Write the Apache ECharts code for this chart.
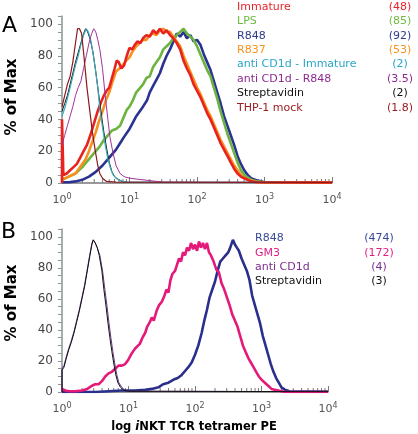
<!DOCTYPE html>
<html><head><meta charset="utf-8">
<script src="https://cdn.jsdelivr.net/npm/echarts@6/dist/echarts.min.js"></script>
<style>html,body{margin:0;padding:0;background:#fff}#c{width:418px;height:434px}</style>
</head><body><div id="c"></div>
<script>
// x values are log10 of fluorescence intensity (decades), y = % of Max
const xTickDecades = [0, 1, 2, 3, 4];
const yTickLabels = [0, 20, 40, 60, 80, 100];

// ---- Panel A ----
const A_legend = ["Immature", "LPS", "R848", "R837", "anti CD1d - Immature", "anti CD1d - R848", "Streptavidin", "THP-1 mock"];
const A_mfi = ["(48)", "(85)", "(92)", "(53)", "(2)", "(3.5)", "(2)", "(1.8)"];
const A_immature = [[0,0],[0,40],[0.02,5],[0.07,6],[0.12,8],[0.17,10],[0.22,12],[0.27,16],[0.32,20],[0.37,24],[0.42,30],[0.47,37],[0.52,44],[0.57,50],[0.62,55],[0.66,58],[0.7,60],[0.74,66],[0.78,72],[0.81,77],[0.84,76],[0.88,72],[0.92,74],[0.96,80],[1.0,85],[1.04,84],[1.08,87],[1.12,89],[1.16,88],[1.2,91],[1.25,93],[1.3,92],[1.35,96],[1.4,94],[1.45,97],[1.5,94],[1.55,96],[1.6,93],[1.65,91],[1.7,88],[1.75,84],[1.8,77],[1.85,72],[1.9,68],[1.95,62],[2.0,58],[2.05,54],[2.1,49],[2.15,44],[2.2,40],[2.25,35],[2.3,30],[2.35,25],[2.4,21],[2.45,17],[2.5,13],[2.55,9],[2.6,6],[2.65,4],[2.7,3],[2.8,1],[2.9,0.5],[3.5,0.3],[4,0.3]];
const A_lps = [[0,2],[0.1,4],[0.2,6],[0.3,10],[0.4,15],[0.5,20],[0.56,23],[0.62,27],[0.68,30],[0.74,33],[0.8,34],[0.86,36],[0.9,40],[0.96,46],[1.0,48],[1.05,52],[1.1,57],[1.16,60],[1.2,62],[1.25,66],[1.3,67],[1.35,73],[1.4,76],[1.45,79],[1.5,84],[1.55,86],[1.6,88],[1.65,91],[1.7,93],[1.75,95],[1.8,97],[1.85,94],[1.9,92],[1.95,90],[2.0,86],[2.05,81],[2.1,76],[2.15,71],[2.2,67],[2.25,60],[2.3,53],[2.35,45],[2.4,38],[2.45,31],[2.5,25],[2.55,19],[2.6,13],[2.65,8],[2.7,5],[2.8,2],[2.9,1],[3.0,0.5],[4,0.3]];
const A_r848 = [[0,0.5],[0.1,0.5],[0.2,1],[0.3,2],[0.4,4],[0.5,7],[0.6,11],[0.7,16],[0.8,21],[0.86,25],[0.92,29],[1.0,34],[1.05,38],[1.1,42],[1.15,45],[1.2,48],[1.26,52],[1.3,57],[1.35,61],[1.4,65],[1.45,69],[1.5,75],[1.55,80],[1.6,84],[1.65,89],[1.7,94],[1.75,92],[1.8,95],[1.85,91],[1.9,93],[1.95,89],[2.0,90],[2.05,87],[2.1,81],[2.15,76],[2.2,71],[2.25,64],[2.3,57],[2.35,50],[2.4,42],[2.45,36],[2.5,30],[2.55,24],[2.6,17],[2.65,12],[2.7,8],[2.75,5],[2.8,3],[2.9,1.5],[3.0,0.5],[4,0.3]];
const A_r837 = [[0,3],[0.05,3],[0.1,4],[0.15,5],[0.2,6],[0.25,9],[0.3,12],[0.35,15],[0.4,20],[0.45,26],[0.5,32],[0.55,39],[0.6,45],[0.65,52],[0.7,57],[0.75,64],[0.8,70],[0.85,72],[0.9,74],[0.95,77],[1.0,79],[1.05,83],[1.1,86],[1.15,88],[1.2,90],[1.25,90],[1.3,93],[1.35,94],[1.4,93],[1.45,96],[1.5,97],[1.55,95],[1.6,95],[1.65,92],[1.7,89],[1.75,86],[1.8,80],[1.85,75],[1.9,70],[1.95,65],[2.0,60],[2.05,56],[2.1,51],[2.15,46],[2.2,42],[2.25,37],[2.3,32],[2.35,27],[2.4,23],[2.45,19],[2.5,15],[2.55,11],[2.6,8],[2.65,5],[2.7,3],[2.8,1.5],[2.9,0.5],[4,0.3]];
const A_cd1dImm = [[0,42],[0.04,47],[0.08,53],[0.12,60],[0.16,67],[0.2,74],[0.24,80],[0.28,87],[0.32,93],[0.36,97],[0.39,95],[0.42,91],[0.45,84],[0.49,73],[0.53,60],[0.56,47],[0.6,35],[0.64,24],[0.68,15],[0.72,9],[0.76,5],[0.8,3],[0.86,1.5],[0.95,0.5],[4,0.3]];
const A_cd1dR848 = [[0,24],[0.04,30],[0.08,36],[0.12,42],[0.16,48],[0.2,55],[0.24,60],[0.28,64],[0.32,72],[0.36,80],[0.4,88],[0.44,94],[0.47,97],[0.5,95],[0.53,90],[0.56,84],[0.6,72],[0.64,55],[0.68,40],[0.71,29],[0.75,20],[0.8,11],[0.86,6],[0.92,4],[1.0,3],[1.1,2.5],[1.2,2],[1.3,1.5],[1.4,1],[1.5,0.5],[4,0.3]];
const A_strep = [[0,45],[0.04,50],[0.08,55],[0.12,62],[0.16,69],[0.2,76],[0.24,82],[0.28,88],[0.32,94],[0.35,97],[0.38,95],[0.42,90],[0.46,82],[0.5,70],[0.54,57],[0.58,44],[0.62,32],[0.66,22],[0.7,13],[0.74,7],[0.78,4],[0.84,2],[0.92,0.5],[4,0.3]];
const A_thp1 = [[0,48],[0.04,55],[0.08,62],[0.12,67],[0.16,76],[0.2,88],[0.23,97],[0.26,97],[0.29,94],[0.32,82],[0.34,73],[0.37,60],[0.41,46],[0.45,32],[0.49,21],[0.53,11],[0.56,6],[0.6,3],[0.66,1],[0.8,0.5],[4,0.3]];

// ---- Panel B ----
const B_legend = ["R848", "GM3", "anti CD1d", "Streptavidin"];
const B_mfi = ["(474)", "(172)", "(4)", "(3)"];
const B_r848 = [[0,0],[0.5,0],[0.7,0.5],[0.9,1],[1.1,1],[1.25,1.5],[1.35,2],[1.45,3],[1.52,5],[1.6,6],[1.68,8],[1.74,9],[1.8,11],[1.86,14],[1.9,16],[1.95,19],[2.0,24],[2.05,30],[2.1,38],[2.14,46],[2.18,53],[2.22,61],[2.26,66],[2.3,71],[2.34,78],[2.38,84],[2.42,86],[2.46,88],[2.5,90],[2.53,93],[2.57,98],[2.6,95],[2.63,93],[2.66,91],[2.7,86],[2.74,82],[2.78,78],[2.82,72],[2.86,62],[2.9,56],[2.94,50],[2.98,44],[3.02,36],[3.06,30],[3.1,24],[3.14,18],[3.18,13],[3.22,9],[3.26,6],[3.3,3],[3.35,1.5],[3.42,0.5],[4,0.3]];
const B_gm3 = [[0,2],[0.05,1],[0.1,0.5],[0.2,0.5],[0.3,1],[0.38,2],[0.45,4],[0.5,5],[0.55,5],[0.6,7],[0.65,10],[0.7,12],[0.75,13],[0.8,15],[0.85,17],[0.9,17],[0.95,18],[1.0,21],[1.05,25],[1.1,28],[1.13,27],[1.17,31],[1.21,35],[1.25,38],[1.28,42],[1.32,45],[1.35,48],[1.38,46],[1.42,52],[1.46,56],[1.5,58],[1.54,62],[1.57,66],[1.6,64],[1.63,72],[1.66,76],[1.7,78],[1.73,82],[1.76,86],[1.79,84],[1.82,90],[1.85,88],[1.88,93],[1.91,91],[1.94,96],[1.97,92],[2.0,95],[2.03,91],[2.06,97],[2.09,93],[2.12,96],[2.15,92],[2.18,96],[2.21,90],[2.24,88],[2.28,84],[2.32,79],[2.36,77],[2.4,70],[2.44,66],[2.48,61],[2.52,56],[2.56,50],[2.6,46],[2.64,42],[2.68,36],[2.72,30],[2.76,26],[2.8,22],[2.84,19],[2.88,16],[2.92,13],[2.96,10],[3.0,8],[3.05,6],[3.1,4],[3.15,2],[3.25,1],[3.35,0],[4,0]];
const B_cd1d = [[0,0],[0,15],[0.03,17],[0.06,22],[0.1,28],[0.14,33],[0.18,39],[0.22,46],[0.26,53],[0.3,61],[0.34,69],[0.38,79],[0.42,89],[0.45,96],[0.47,98],[0.5,96],[0.53,93],[0.57,88],[0.61,78],[0.645,66],[0.675,56],[0.705,45],[0.735,35],[0.765,26],[0.795,18],[0.825,11],[0.855,6],[0.9,3],[0.95,1],[1.0,0.5],[4,0.2]];
const B_strep = [[0,0],[0,14],[0.03,16],[0.06,21],[0.1,27],[0.14,32],[0.18,38],[0.22,45],[0.26,52],[0.3,60],[0.34,68],[0.38,78],[0.42,88],[0.45,95],[0.47,98],[0.5,96],[0.53,93],[0.56,88],[0.6,78],[0.63,66],[0.66,56],[0.69,45],[0.72,35],[0.75,26],[0.78,18],[0.81,11],[0.84,6],[0.88,3],[0.93,1],[1.0,0.5],[4,0.2]];

const toXY = arr => arr.map(([d, p]) => [Math.pow(10, d), p]);
const minorTickVals = [];
for (let n = 0; n < 4; n++) for (let k = 2; k <= 9; k++) minorTickVals.push([k * Math.pow(10, n), 0]);

const FONT = '"DejaVu Sans", Verdana, sans-serif';
const gridA = {left: 62, right: 86, top: 16, height: 167};
const gridB = {left: 62, right: 90, top: 229, height: 163};

function xAxisDef(gi) {
  return {
    type: 'log', logBase: 10, gridIndex: gi, min: 1, max: 10000,
    axisLine: {show: true, lineStyle: {color: '#7a7a7a', width: 1.5}},
    axisTick: {show: true, inside: true, length: 6, lineStyle: {color: '#7a7a7a'}},
    splitLine: {show: false},
    axisLabel: {
      margin: 10, color: '#555', fontFamily: FONT,
      formatter: v => '{b|10}{s|' + Math.round(Math.log10(v)) + '}',
      rich: {b: {fontSize: 11, fontFamily: FONT, color: '#555'}, s: {fontSize: 8, fontFamily: FONT, color: '#555', padding: [0, 0, 7, 0]}}
    }
  };
}
function yAxisDef(gi) {
  return {
    type: 'value', gridIndex: gi, min: 0, max: 105, interval: 5,
    axisLine: {show: true, lineStyle: {color: '#8a9696', width: 1.5}},
    axisTick: {show: true, length: 4, lineStyle: {color: '#8a9696'}},
    splitLine: {show: false},
    axisLabel: {
      margin: 9, color: '#444', fontSize: 12, fontFamily: FONT,
      formatter: v => (yTickLabels.indexOf(v) >= 0 ? String(v) : '')
    }
  };
}
function line(name, arr, color, width, xi) {
  return {name, type: 'line', xAxisIndex: xi, yAxisIndex: xi, data: toXY(arr), showSymbol: false,
    symbol: 'none', smooth: false, lineStyle: {color, width}, itemStyle: {color}, silent: true, animation: false};
}
function minorTicks(xi) {
  return {type: 'custom', xAxisIndex: xi, yAxisIndex: xi, data: minorTickVals, silent: true, clip: false, animation: false, z: 1,
    renderItem: (params, api) => {
      const p = api.coord([api.value(0), 0]);
      return {type: 'line', shape: {x1: p[0], y1: p[1], x2: p[0], y2: p[1] - 4}, style: {stroke: '#7a7a7a', lineWidth: 1}};
    }};
}

const A_colors = ['#e8231f', '#6db33f', '#2b3390', '#f7901e', '#3aa9b8', '#a3329a', '#111111', '#8a1a1a'];
const A_textColors = ['#e8232a', '#6fba3f', '#2e3a8f', '#f7931e', '#2aa6c8', '#8e2a8f', '#111111', '#9b1d22'];
const B_textColors = ['#3a4a9a', '#e01f84', '#7b2d8e', '#111111'];

const graphics = [];
graphics.push({type: 'text', left: 2, top: 15, style: {text: 'A', font: '22px ' + FONT, fill: '#000'}});
graphics.push({type: 'text', left: 1, top: 221, style: {text: 'B', font: '22px ' + FONT, fill: '#000'}});
graphics.push({type: 'text', x: 12, y: 97, rotation: Math.PI / 2, style: {text: '% of Max', font: 'bold 15px ' + FONT, fill: '#000', align: 'center', verticalAlign: 'middle'}});
graphics.push({type: 'text', x: 12, y: 303, rotation: Math.PI / 2, style: {text: '% of Max', font: 'bold 15px ' + FONT, fill: '#000', align: 'center', verticalAlign: 'middle'}});
graphics.push({type: 'text', x: 194, y: 427, style: {text: '{n|log }{i|i}{n|NKT TCR tetramer PE}', align: 'center', verticalAlign: 'middle',
  rich: {n: {fontFamily: FONT, fontWeight: 'bold', fontSize: 11.5, color: '#000'}, i: {fontFamily: FONT, fontWeight: 'bold', fontStyle: 'italic', fontSize: 11.5, color: '#000'}}}});
A_legend.forEach((t, i) => {
  const y = 7 + i * 14.4;
  graphics.push({type: 'text', x: 237, y, style: {text: t, font: '11px ' + FONT, fill: A_textColors[i], align: 'left', verticalAlign: 'middle'}});
  graphics.push({type: 'text', x: 400, y, style: {text: A_mfi[i], font: '11px ' + FONT, fill: A_textColors[i], align: 'center', verticalAlign: 'middle'}});
});
B_legend.forEach((t, i) => {
  const y = 238.5 + i * 14.2;
  graphics.push({type: 'text', x: 255, y, style: {text: t, font: '11px ' + FONT, fill: B_textColors[i], align: 'left', verticalAlign: 'middle'}});
  graphics.push({type: 'text', x: 379, y, style: {text: B_mfi[i], font: '11px ' + FONT, fill: B_textColors[i], align: 'center', verticalAlign: 'middle'}});
});

const chart = echarts.init(document.getElementById('c'), null, {renderer: 'canvas'});
chart.setOption({
  backgroundColor: '#fff',
  animation: false,
  grid: [gridA, gridB],
  xAxis: [xAxisDef(0), xAxisDef(1)],
  yAxis: [yAxisDef(0), yAxisDef(1)],
  graphic: graphics,
  series: [
    minorTicks(0), minorTicks(1),
    line('R848', A_r848, A_colors[2], 2.6, 0),
    line('LPS', A_lps, A_colors[1], 2.6, 0),
    line('R837', A_r837, A_colors[3], 2.6, 0),
    line('Immature', A_immature, A_colors[0], 2.6, 0),
    line('Streptavidin', A_strep, A_colors[6], 1, 0),
    line('anti CD1d - Immature', A_cd1dImm, A_colors[4], 1.2, 0),
    line('anti CD1d - R848', A_cd1dR848, A_colors[5], 1, 0),
    line('THP-1 mock', A_thp1, A_colors[7], 1.2, 0),
    line('R848', B_r848, '#2b2f8c', 2.6, 1),
    line('GM3', B_gm3, '#e5197a', 2.6, 1),
    line('anti CD1d', B_cd1d, '#6a3a8c', 1, 1),
    line('Streptavidin', B_strep, '#111111', 1, 1)
  ]
});
</script></body></html>
